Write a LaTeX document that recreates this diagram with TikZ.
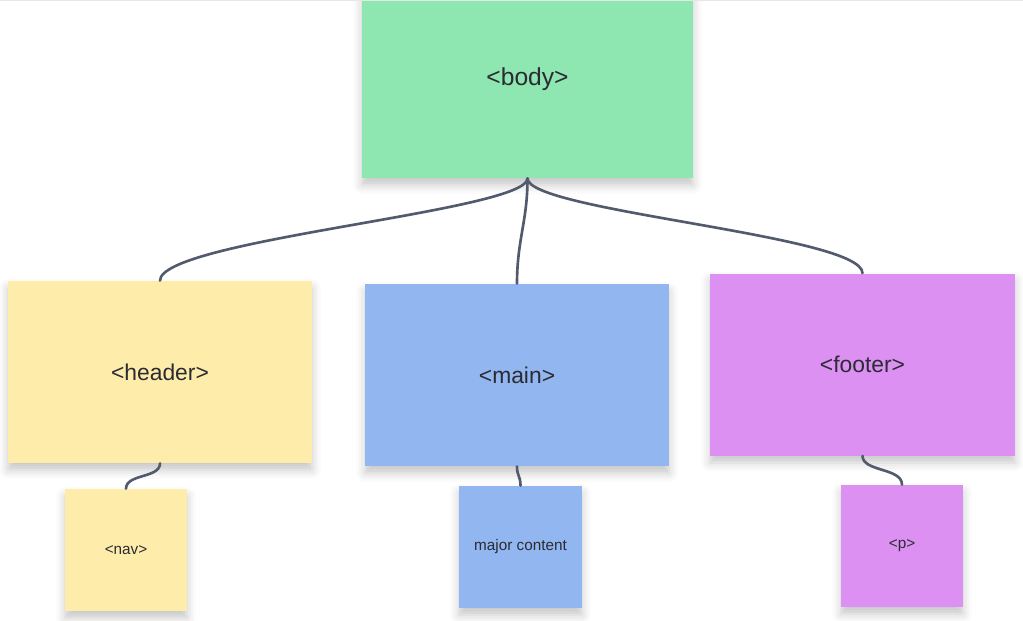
\documentclass[tikz,border=0pt]{standalone}
\usepackage{fontspec}
\setmainfont{Liberation Sans}
\usepackage{xcolor}
\definecolor{bodygreen}{HTML}{8EE6B0}
\definecolor{headyellow}{HTML}{FEEDAA}
\definecolor{mainblue}{HTML}{91B6F0}
\definecolor{footpurple}{HTML}{DC90F2}
\definecolor{wire}{HTML}{525A6E}
\definecolor{inktext}{HTML}{2B2B33}
\definecolor{topline}{HTML}{E6E6E6}
\usepackage{tikz}
\usetikzlibrary{
  positioning,
  shadows.blur
}

\begin{document}
\begin{tikzpicture}[
  x=0.02cm, y=-0.02cm,
  sticky/.style={rectangle, draw=none, inner sep=0pt, text=inktext,
    blur shadow={shadow xshift=0pt, shadow yshift=-4pt, shadow blur radius=5pt, shadow opacity=22}},
  bignote/.style={sticky, minimum width=304*0.02cm, minimum height=182*0.02cm, font=\fontsize{13}{15}\selectfont},
  smallnote/.style={sticky, minimum width=122*0.02cm, minimum height=122*0.02cm, font=\fontsize{8.7}{10}\selectfont},
  conn/.style={wire, line width=1.5pt, line cap=round},
]
\useasboundingbox (0,0) rectangle (1023,620);

% top level
\node[sticky, fill=bodygreen, minimum width=331*0.02cm, minimum height=198*0.02cm,
  font=\fontsize{14}{16}\selectfont] (body) at (527.5,79) {<body>};

% second level
\node[bignote, fill=headyellow] (header) at (160,372) {<header>};
\node[bignote, fill=mainblue] (main) at (517,375) {<main>};
\node[bignote, fill=footpurple, minimum width=305*0.02cm] (footer) at (862.5,364.5) {<footer>};

% leaves
\node[smallnote, fill=headyellow] (nav) at (126,550) {<nav>};
\node[smallnote, fill=mainblue, minimum width=123*0.02cm] (major) at (520.5,547) {major content};
\node[smallnote, fill=footpurple] (para) at (902,546) {<p>};

\draw[topline, line width=1pt] (0,0.5) -- (1023,0.5);

\draw[conn] (body.south) .. controls +(0,33) and +(0,-41) .. (header.north);
\draw[conn] (body.south) .. controls +(0,43) and +(0,-44) .. (main.north);
\draw[conn] (body.south) .. controls +(0,33) and +(0,-38) .. (footer.north);
\draw[conn] (header.south) .. controls +(0,15) and +(0,-15) .. (nav.north);
\draw[conn] (main.south) .. controls +(0,10) and +(0,-10) .. (major.north);
\draw[conn] (footer.south) .. controls +(0,16) and +(0,-17) .. (para.north);

\end{tikzpicture}
\end{document}
